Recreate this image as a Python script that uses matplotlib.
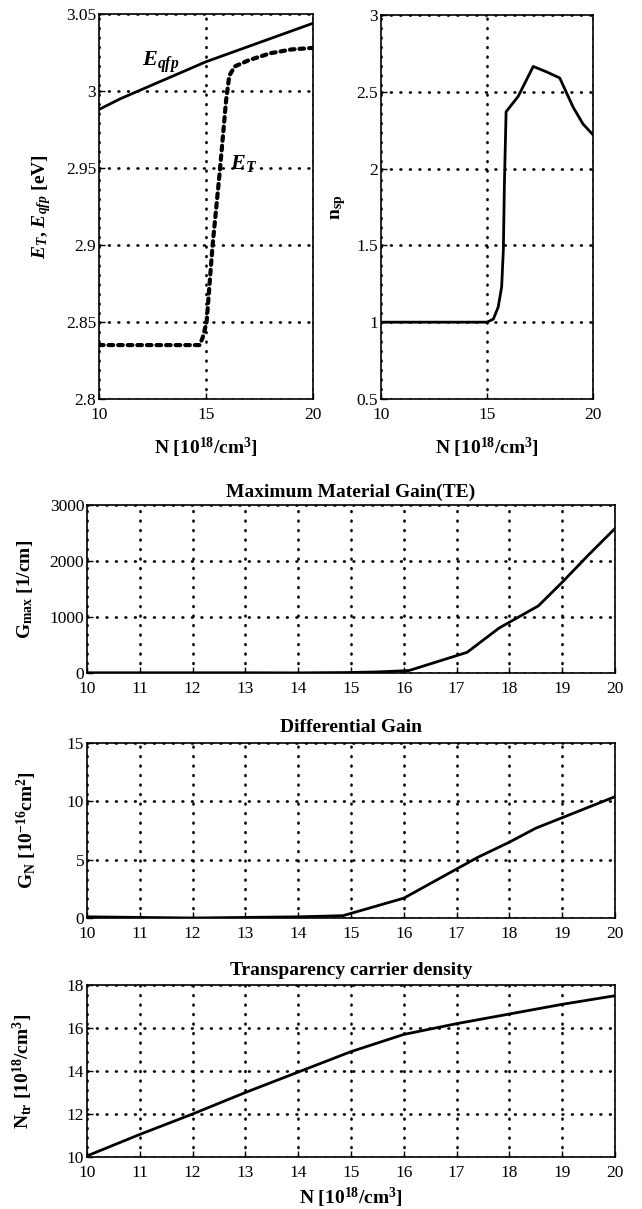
import numpy as np
import matplotlib
matplotlib.use("Agg")
from matplotlib import pyplot as plt

plt.rcParams['font.family'] = ['Liberation Serif', 'DejaVu Serif']
plt.rcParams['mathtext.fontset'] = 'custom'
plt.rcParams['mathtext.rm'] = 'Liberation Serif'
plt.rcParams['mathtext.bf'] = 'Liberation Serif:bold'
plt.rcParams['mathtext.it'] = 'Liberation Serif:italic'
plt.rcParams['mathtext.bfit'] = 'Liberation Serif:bold:italic'
plt.rcParams['mathtext.default'] = 'bf'

# --- data ---
n_qfp = [10, 11, 12, 13, 14, 15, 16, 17, 18, 19, 20]
e_qfp = [2.988, 2.995, 3.001, 3.007, 3.013, 3.019, 3.024, 3.029, 3.034, 3.039, 3.044]

n_t = [10, 11, 12, 13, 14, 14.7, 14.85, 15.03, 15.23, 15.31, 15.66, 15.94, 16.09, 16.35, 17, 18, 19, 20]
e_t = [2.835, 2.835, 2.835, 2.835, 2.835, 2.835, 2.84, 2.85, 2.886, 2.90, 2.95, 2.994, 3.01, 3.016,
       3.020, 3.0245, 3.027, 3.028]

n_sp_x = [10, 11, 12, 13, 14, 15, 15.3, 15.53, 15.69, 15.77, 15.82, 15.9, 16.47, 17.18, 17.8, 18.43,
          19.06, 19.53, 20]
n_sp = [1.0, 1.0, 1.0, 1.0, 1.0, 1.0, 1.02, 1.10, 1.23, 1.47, 1.90, 2.37, 2.47, 2.665, 2.63, 2.59,
        2.40, 2.29, 2.22]

g_x = [10, 11, 12, 13, 14, 15, 15.5, 16.1, 17.2, 17.8, 18.55, 19.0, 19.5, 20.0]
g_max = [5, 5, 5, 5, 3, 10, 20, 45, 370, 800, 1200, 1620, 2110, 2580]

gn_x = [10, 11, 12, 13, 14, 14.85, 16.0, 17.0, 17.4, 18.0, 18.5, 19.0, 20.0]
g_n = [0.1, 0.05, 0.0, 0.05, 0.1, 0.2, 1.7, 4.2, 5.2, 6.5, 7.7, 8.6, 10.4]

ntr_x = [10, 11, 12, 13, 14, 15, 16, 17, 18, 19, 20]
n_tr = [10.05, 11.05, 12.0, 13.0, 13.95, 14.9, 15.7, 16.2, 16.65, 17.1, 17.5]

XLAB = r'N [10$^{18}$/cm$^{3}$]'
GRID = dict(color='black', linestyle=(0, (0.3, 3.3)), linewidth=1.9, dash_capstyle='round')
LW = 2.0


def style_axes(ax, xticks, yticks, ylabels):
    ax.set_xlim(xticks[0], xticks[-1])
    ax.set_ylim(yticks[0], yticks[-1])
    ax.set_xticks(xticks)
    ax.set_yticks(yticks)
    ax.set_yticklabels(ylabels)
    ax.tick_params(direction='in', length=4, width=1, labelsize=12.5)
    ax.tick_params(axis='x', pad=6)
    ax.tick_params(axis='y', pad=2)
    ax.grid(True, **GRID)
    for sp in ax.spines.values():
        sp.set_linewidth(1.2)


fig = plt.figure(figsize=(6.42, 12.09), dpi=100)

# E_T, E_qfp
ax1 = fig.add_axes([0.1542, 0.670, 0.3333, 0.3184])
ax1.plot(n_qfp, e_qfp, color='black', linewidth=LW)
ax1.plot(n_t, e_t, color='black', linewidth=3.0, linestyle=(0, (1.1, 1.2)), dash_capstyle='round')
style_axes(ax1, [10, 15, 20], [2.8, 2.85, 2.9, 2.95, 3.0, 3.05],
           ['2.8', '2.85', '2.9', '2.95', '3', '3.05'])
ax1.text(12.9, 3.019, r'$\mathbfit{E_{qfp}}$', fontsize=16, ha='center', va='center')
ax1.text(16.75, 2.953, r'$\mathbfit{E_{T}}$', fontsize=16, ha='center', va='center')
ax1.set_ylabel(r'$\mathbfit{E_T}$, $\mathbfit{E_{qfp}}$ [eV]', fontsize=14, fontweight='bold')
ax1.yaxis.set_label_coords(-0.215, 0.5)
ax1.set_xlabel(XLAB, fontsize=14, fontweight='bold')
ax1.xaxis.set_label_coords(0.5, -0.095)

# n_sp
ax2 = fig.add_axes([0.5935, 0.670, 0.3302, 0.3176])
ax2.plot(n_sp_x, n_sp, color='black', linewidth=LW)
style_axes(ax2, [10, 15, 20], [0.5, 1, 1.5, 2, 2.5, 3],
           ['0.5', '1', '1.5', '2', '2.5', '3'])
ax2.set_ylabel(r'n$_{\mathbf{sp}}$', fontsize=14, fontweight='bold')
ax2.yaxis.set_label_coords(-0.156, 0.5)
ax2.set_xlabel(XLAB, fontsize=14, fontweight='bold')
ax2.xaxis.set_label_coords(0.5, -0.095)

xt = list(range(10, 21))

# Maximum material gain
ax3 = fig.add_axes([0.1355, 0.4433, 0.8224, 0.139])
ax3.plot(g_x, g_max, color='black', linewidth=LW)
style_axes(ax3, xt, [0, 1000, 2000, 3000], ['0', '1000', '2000', '3000'])
ax3.set_title('Maximum Material Gain(TE)', fontsize=14, fontweight='bold', pad=6)
ax3.set_ylabel(r'G$_{\mathbf{max}}$ [1/cm]', fontsize=14, fontweight='bold')
ax3.yaxis.set_label_coords(-0.098, 0.5)

# Differential gain
ax4 = fig.add_axes([0.1355, 0.2407, 0.8224, 0.1447])
ax4.plot(gn_x, g_n, color='black', linewidth=LW)
style_axes(ax4, xt, [0, 5, 10, 15], ['0', '5', '10', '15'])
ax4.set_title('Differential Gain', fontsize=14, fontweight='bold', pad=8)
ax4.set_ylabel(r'G$_{\mathbf{N}}$ [10$^{-16}$cm$^{2}$]', fontsize=14, fontweight='bold')
ax4.yaxis.set_label_coords(-0.091, 0.5)

# Transparency carrier density
ax5 = fig.add_axes([0.1355, 0.043, 0.8224, 0.1423])
ax5.plot(ntr_x, n_tr, color='black', linewidth=LW)
style_axes(ax5, xt, [10, 12, 14, 16, 18], ['10', '12', '14', '16', '18'])
ax5.set_title('Transparency carrier density', fontsize=14, fontweight='bold', pad=7)
ax5.set_ylabel(r'N$_{\mathbf{tr}}$ [10$^{18}$/cm$^{3}$]', fontsize=14, fontweight='bold')
ax5.yaxis.set_label_coords(-0.098, 0.5)
ax5.set_xlabel(XLAB, fontsize=14, fontweight='bold')
ax5.xaxis.set_label_coords(0.5, -0.165)

fig.savefig('out.png', dpi=100)
